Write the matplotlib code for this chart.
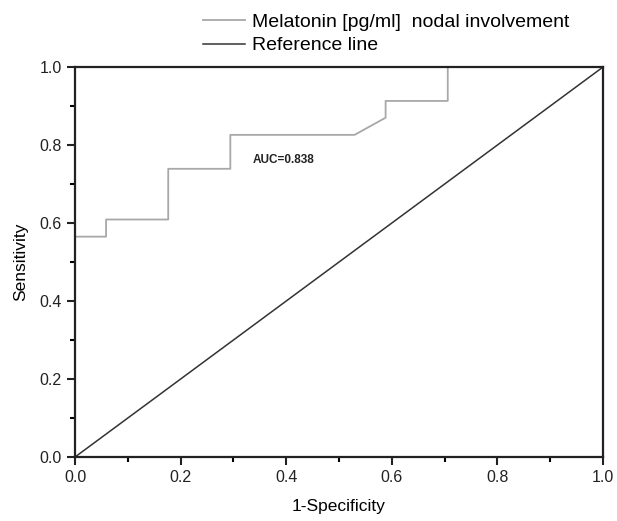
import matplotlib
matplotlib.use("Agg")
import matplotlib.pyplot as plt
import numpy as np
from matplotlib.ticker import MultipleLocator

# ROC curve (1-specificity, sensitivity)
fpr = [0.0, 0.0, 0.0588, 0.0588, 0.1765, 0.1765, 0.2941, 0.2941, 0.5294, 0.5882, 0.5882, 0.7059, 0.7059, 1.0]
tpr = [0.0, 0.565, 0.565, 0.609, 0.609, 0.739, 0.739, 0.826, 0.826, 0.870, 0.913, 0.913, 1.0, 1.0]
ref = [0.0, 1.0]
auc_label = "AUC=0.838"

plt.rcParams['font.family'] = ['Liberation Sans', 'DejaVu Sans']

fig = plt.figure(figsize=(6.17, 5.21), dpi=100)
ax = fig.add_axes([0.1216, 0.1228, 0.8558, 0.7486])

l1, = ax.plot(fpr, tpr, color='#a8a8a8', lw=1.3)
l2, = ax.plot(ref, ref, color='#333333', lw=1.1)

ax.set_xlim(0, 1)
ax.set_ylim(0, 1)
ax.xaxis.set_major_locator(MultipleLocator(0.2))
ax.xaxis.set_minor_locator(MultipleLocator(0.1))
ax.yaxis.set_major_locator(MultipleLocator(0.2))
ax.yaxis.set_minor_locator(MultipleLocator(0.1))
ax.xaxis.set_major_formatter(matplotlib.ticker.FormatStrFormatter('%.1f'))
ax.yaxis.set_major_formatter(matplotlib.ticker.FormatStrFormatter('%.1f'))
ax.tick_params(which='major', direction='out', length=6, width=1.5, labelsize=11.5, colors='#222222')
ax.tick_params(which='minor', direction='out', length=3.5, width=1.5)
for s in ax.spines.values():
    s.set_linewidth(1.6)
    s.set_color('#222222')

ax.set_xlabel('1-Specificity', fontsize=12.5, labelpad=10)
ax.set_ylabel('Sensitivity', fontsize=12.5, labelpad=8)
ax.text(0.337, 0.762, auc_label, fontsize=8.5, fontweight='bold', color='#222222', va='center')

fig.legend([l1, l2], ['Melatonin [pg/ml]  nodal involvement', 'Reference line'],
           loc='upper left', bbox_to_anchor=(0.30, 1.008), frameon=False,
           fontsize=14, handlelength=2.2, handletextpad=0.35, labelspacing=0.3)

fig.savefig('out.png', dpi=100, facecolor='white')
